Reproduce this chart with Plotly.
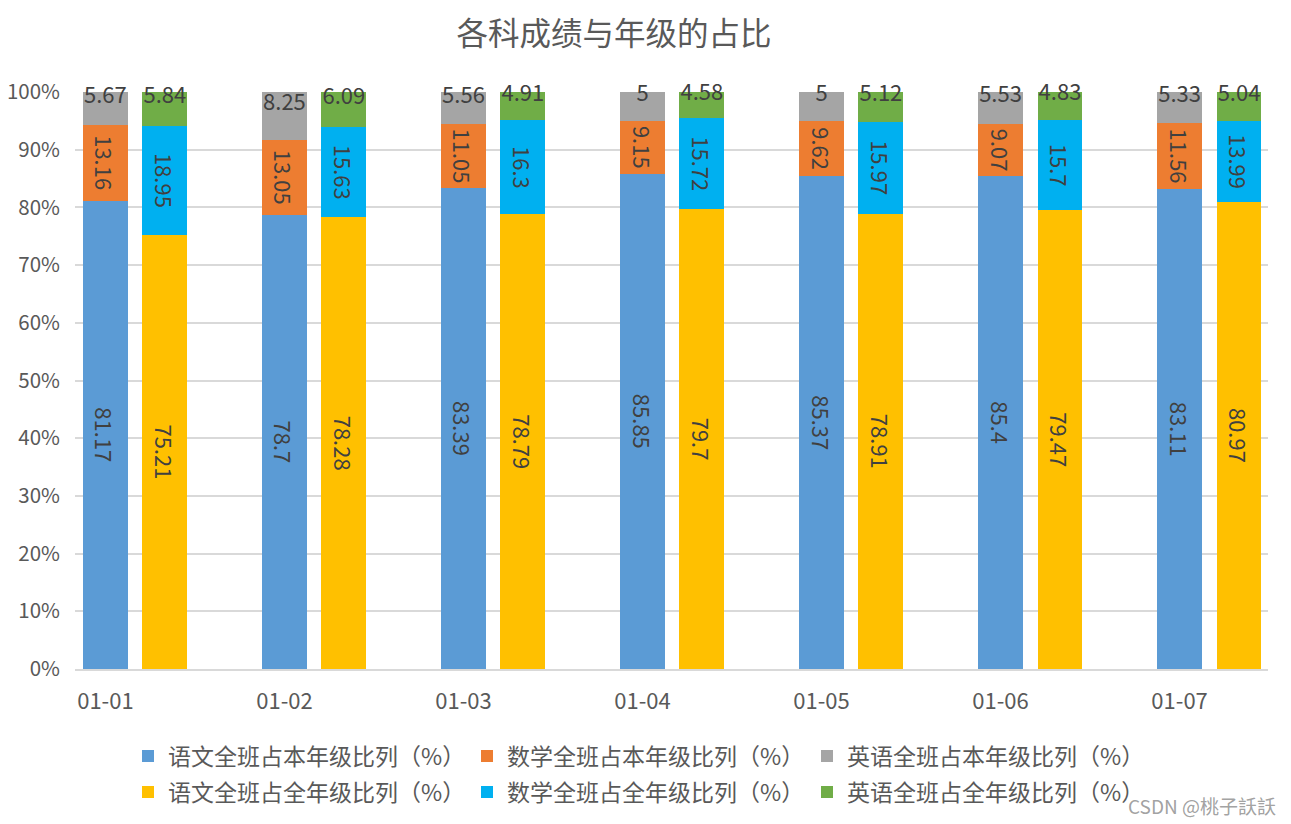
import plotly.graph_objects as go

dates = ["01-01", "01-02", "01-03", "01-04", "01-05", "01-06", "01-07"]

yuwen_ben = [81.17, 78.7, 83.39, 85.85, 85.37, 85.4, 83.11]
shuxue_ben = [13.16, 13.05, 11.05, 9.15, 9.62, 9.07, 11.56]
yingyu_ben = [5.67, 8.25, 5.56, 5, 5, 5.53, 5.33]

yuwen_quan = [75.21, 78.28, 78.79, 79.7, 78.91, 79.47, 80.97]
shuxue_quan = [18.95, 15.63, 16.3, 15.72, 15.97, 15.7, 13.99]
yingyu_quan = [5.84, 6.09, 4.91, 4.58, 5.12, 4.83, 5.04]

names = ["语文全班占本年级比列（%）", "数学全班占本年级比列（%）", "英语全班占本年级比列（%）",
         "语文全班占全年级比列（%）", "数学全班占全年级比列（%）", "英语全班占全年级比列（%）"]
colors = ["#5B9BD5", "#ED7D31", "#A5A5A5", "#FFC000", "#00B0F0", "#70AD47"]

series = [yuwen_ben, shuxue_ben, yingyu_ben, yuwen_quan, shuxue_quan, yingyu_quan]
groups = ["A", "A", "A", "B", "B", "B"]
angles = [90, 90, 0, 90, 90, 0]

W = 0.251
offsets = {"A": -W / 2, "B": 0.332 - W / 2}

FONT = "Microsoft YaHei, Noto Sans CJK SC, sans-serif"
FIG_W, FIG_H = 1291, 824
PAGE_OFF = 8  # default body margin of the html page

# legend slot positions (page pixels): columns and rows
leg_cols = [128, 467, 807]
leg_rows = [756, 792]

idx = list(range(len(dates)))

fig = go.Figure()
legend_layout = {}
stack_base = {"A": [0.0] * len(dates), "B": [0.0] * len(dates)}
top_labels = []
for i, (vals, name, col, g, ang) in enumerate(zip(series, names, colors, groups, angles)):
    key = "legend" if i == 0 else f"legend{i + 1}"
    rotated = ang != 0
    fig.add_trace(go.Bar(
        x=idx, y=vals, name=name, marker=dict(color=col, line=dict(width=0)),
        offsetgroup=g, offset=offsets[g], width=W,
        text=[str(v) for v in vals] if rotated else None,
        textposition="inside" if rotated else "none",
        insidetextanchor="middle", textangle=ang,
        textfont=dict(size=22, color="#404040", family=FONT),
        constraintext="none", cliponaxis=False,
        hovertemplate="%{y}<extra>" + name + "</extra>",
        legend=key,
    ))
    if not rotated:
        # small top segment: label sits just above the segment centre (as in Excel)
        top_labels.append(dict(
            x=[k + offsets[g] + W / 2 for k in idx],
            y=[b + v / 2 for b, v in zip(stack_base[g], vals)],
            text=[str(v) for v in vals],
        ))
    stack_base[g] = [b + v for b, v in zip(stack_base[g], vals)]
    r, c = divmod(i, 3)
    legend_layout[key] = dict(
        xref="container", yref="container",
        x=(leg_cols[c] - PAGE_OFF) / FIG_W, xanchor="left",
        y=1 - (leg_rows[r] - PAGE_OFF) / FIG_H, yanchor="middle",
        orientation="h", bgcolor="rgba(0,0,0,0)", borderwidth=0,
        font=dict(size=23, color="#595959", family=FONT),
    )

for lab in top_labels:
    fig.add_trace(go.Scatter(
        x=lab["x"], y=lab["y"], text=lab["text"], mode="text",
        textposition="top center", cliponaxis=False, showlegend=False,
        textfont=dict(size=22, color="#404040", family=FONT), hoverinfo="skip",
    ))

fig.update_layout(
    barmode="stack",
    width=FIG_W, height=FIG_H,
    margin=dict(l=75 - PAGE_OFF, r=23 + PAGE_OFF, t=92 - PAGE_OFF, b=155 + PAGE_OFF,
                autoexpand=False),
    paper_bgcolor="white", plot_bgcolor="white",
    font=dict(family=FONT, color="#595959"),
    title=dict(text="各科成绩与年级的占比", xref="container", yref="container",
               x=(614 - PAGE_OFF) / FIG_W, xanchor="center",
               y=1 - (34 - PAGE_OFF) / FIG_H, yanchor="middle",
               font=dict(size=31.5, color="#595959", family=FONT)),
    uniformtext=dict(minsize=22, mode="show"),
    showlegend=True,
    **legend_layout,
)
fig.update_xaxes(range=[-0.170, 6.494], tickvals=idx, ticktext=dates, showgrid=False,
                 zeroline=False, showline=True, linecolor="#D9D9D9", linewidth=2, ticks="",
                 tickfont=dict(size=22, color="#595959", family=FONT), ticklabelstandoff=12)
fig.update_yaxes(range=[0, 100], dtick=10, ticksuffix="%", showgrid=True,
                 gridcolor="#D9D9D9", gridwidth=2, zeroline=False, showline=False,
                 tickfont=dict(size=20.5, color="#595959", family=FONT), ticklabelstandoff=14)

fig.add_annotation(text="CSDN @桃子訞訞", xref="paper", yref="paper", x=1.0085, y=-0.237,
                   xanchor="right", yanchor="middle", showarrow=False,
                   font=dict(size=19, color="rgba(150,150,150,0.9)", family=FONT))

fig.write_html("out.html")
